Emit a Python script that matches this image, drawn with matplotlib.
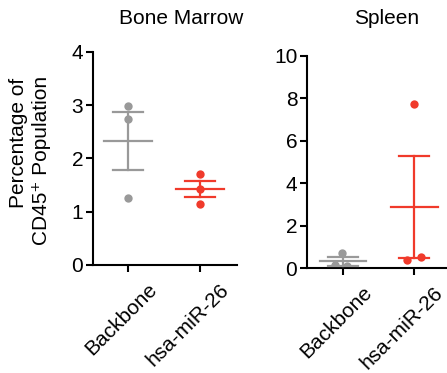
import matplotlib
matplotlib.use('Agg')
import matplotlib.pyplot as plt
import matplotlib.transforms as mtransforms
import numpy as np

plt.rcParams['font.family'] = ['Liberation Sans', 'DejaVu Sans']
FS = 15

groups = ['Backbone', 'hsa-miR-26']
colors = ['#999999', '#F03A2B']

# Bone marrow
bm_backbone = [2.99, 2.74, 1.25]
bm_mir26 = [1.70, 1.43, 1.15]
bm_jitter = [[0.0, 0.0, 0.0], [0.0, 0.0, 0.0]]

# Spleen
sp_backbone = [0.73, 0.12, 0.10]
sp_mir26 = [7.72, 0.40, 0.50]
sp_jitter = [[-0.01, -0.11, 0.06], [0.0, -0.10, 0.10]]

bm_yticks = [0, 1, 2, 3, 4]
sp_yticks = [0, 2, 4, 6, 8, 10]


def scatter_panel(ax, data, jitter, ylim, yticks):
  for i, (vals, jit, c) in enumerate(zip(data, jitter, colors)):
    vals = np.array(vals)
    xs = i + np.array(jit)
    ax.plot(xs, vals, 'o', color=c, markersize=6, markeredgewidth=0, zorder=2)
    # 平均 ± SEM
    m = vals.mean()
    sem = vals.std(ddof=1) / np.sqrt(len(vals))
    ax.plot([i - 0.33, i + 0.33], [m, m], color=c, lw=1.6, zorder=3)
    ax.plot([i, i], [m - sem, m + sem], color=c, lw=1.6, zorder=3)
    for y in (m - sem, m + sem):
      ax.plot([i - 0.21, i + 0.21], [y, y], color=c, lw=1.6, zorder=3)
  ax.set_ylim(*ylim)
  ax.set_yticks(yticks)
  ax.set_xticks(range(len(groups)))
  ax.set_xticklabels([])
  for s in ('top', 'right'):
    ax.spines[s].set_visible(False)
  for s in ('left', 'bottom'):
    ax.spines[s].set_linewidth(1.5)
  ax.spines['left'].set_capstyle('projecting')
  ax.tick_params(width=1.5, length=5, labelsize=FS, pad=2)
  ax.tick_params(axis='y', pad=2)
  # rotated group labels
  fig = ax.figure
  off = mtransforms.ScaledTranslation(19 / 100, -15 / 100, fig.dpi_scale_trans)
  for i, g in enumerate(groups):
    ax.text(i, 0, g, transform=ax.get_xaxis_transform() + off,
            rotation=45, rotation_mode='anchor', ha='right', va='top',
            fontsize=FS)


fig = plt.figure(figsize=(4.47, 3.73), dpi=100)
W, H = 447, 373

ax1 = fig.add_axes([93 / W, (H - 265) / H, (237 - 93) / W, 213 / H])
scatter_panel(ax1, [bm_backbone, bm_mir26], bm_jitter, (0, 4), bm_yticks)
ax1.set_xlim(-0.486, 1.514)

ax2 = fig.add_axes([307 / W, (H - 268) / H, (451 - 307) / W, 212 / H])
scatter_panel(ax2, [sp_backbone, sp_mir26], sp_jitter, (0, 10), sp_yticks)
ax2.set_xlim(-0.507, 1.52)

fig.text(181 / W, 1 - 19 / H, 'Bone Marrow', ha='center', va='center', fontsize=FS)
fig.text(387 / W, 1 - 19 / H, 'Spleen', ha='center', va='center', fontsize=FS)

fig.text(19 / W, 1 - 143 / H, 'Percentage of', rotation=90, ha='center', va='center', fontsize=FS)
fig.text(42 / W, 1 - 160 / H, 'CD45\u207a Population', rotation=90, ha='center', va='center', fontsize=FS)

fig.savefig('out.png', dpi=100)
